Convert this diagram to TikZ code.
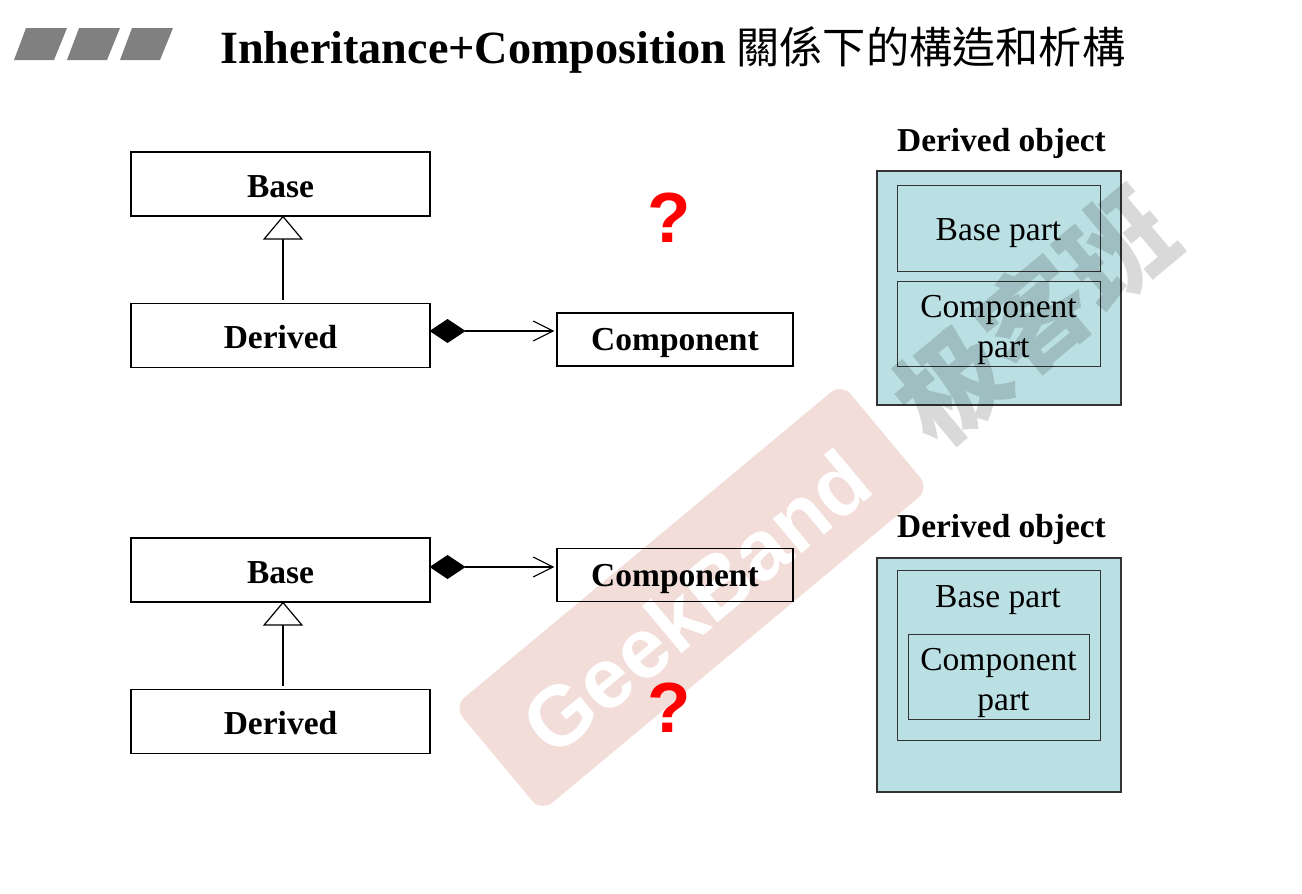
\documentclass[tikz,border=0pt]{standalone}
\usepackage{fontspec}
\setmainfont{Liberation Serif}
\setsansfont{Liberation Sans}
\newfontfamily\cjk{Noto Sans CJK TC}
\usetikzlibrary{arrows.meta}

\definecolor{partfill}{HTML}{BBE0E3}
\definecolor{markfill}{HTML}{F2DDD9}

\tikzstyle{classstyle} = [draw, text centered, inner sep=0, line width=1.2pt, text height=26pt, text depth=0pt, minimum width=299pt, minimum height=64pt, font=\fontsize{33.5}{40}\selectfont\bfseries]
\tikzstyle{compstyle} = [classstyle, text height=22pt, minimum width=236pt, minimum height=53pt]
\tikzstyle{objstyle} = [draw=black!80, fill=partfill, inner sep=0, line width=1.1pt, minimum width=244pt, minimum height=234pt]
\tikzstyle{partstyle} = [draw=black!80, inner sep=0, line width=1pt, align=center, font=\fontsize{33.5}{40}\selectfont]
\tikzstyle{textstyle} = [inner sep=0, align=center, font=\fontsize{33.5}{40}\selectfont]
\tikzstyle{headstyle} = [inner sep=0, font=\fontsize{33.4}{40}\selectfont\bfseries]
\tikzstyle{askstyle} = [inner sep=0, text=red, font=\fontsize{71}{75}\selectfont\sffamily\bfseries]
\tikzstyle{barstyle} = [fill=black!50]

\begin{document}
\begin{tikzpicture}[x=1pt, y=-1pt]
  \useasboundingbox (0,0) rectangle (1302,894);

  \node at (691.5,597.5) [fill=markfill, rounded corners=14pt, rotate=39.8, minimum width=505pt, minimum height=137pt] (mark) {};
  \node at (696,602) [rotate=39.8, inner sep=0, text=white, font=\fontsize{85}{90}\selectfont\sffamily\bfseries] (markname) {GeekBand};

  \fill[barstyle] (14,60) -- (26,28) -- (67,28) -- (54,60) -- cycle;
  \fill[barstyle] (67,60) -- (79,28) -- (120,28) -- (107,60) -- cycle;
  \fill[barstyle] (120,60) -- (132,28) -- (173,28) -- (160,60) -- cycle;

  \node at (220,50) [anchor=west, inner sep=0, font=\fontsize{46.2}{50}\selectfont\bfseries] (title) {Inheritance+Composition\hspace{10pt}{\mdseries\cjk\fontsize{43.2}{50}\selectfont 關係下的構造和析構}};

  \node at (280.5,184) [classstyle] (base1) {Base};
  \node at (280.5,335.5) [classstyle] (derived1) {Derived};
  \node at (675,339.5) [compstyle] (comp1) {Component};

  \node at (280.5,570) [classstyle] (base2) {Base};
  \node at (280.5,721.5) [classstyle] (derived2) {Derived};
  \node at (675,575) [compstyle] (comp2) {Component};

  \node at (669,217.5) [askstyle] (ask1) {?};
  \node at (669,708) [askstyle] (ask2) {?};

  \node at (1001.5,143) [headstyle] (head1) {Derived object};
  \node at (999,288) [objstyle] (obj1) {};
  \node at (998.5,228) [partstyle, text height=25pt, text depth=0pt, minimum width=203pt, minimum height=86pt] (basepart1) {Base part};
  \node at (998.5,323.5) [partstyle, minimum width=203pt, minimum height=85pt] (comppart1) {};
  \node at (998.5,330) [textstyle] (comptext1) {Component\\\hspace*{10pt}part};

  \node at (1001.5,529) [headstyle] (head2) {Derived object};
  \node at (999,675) [objstyle] (obj2) {};
  \node at (998.5,655) [partstyle, minimum width=203pt, minimum height=170pt] (basepart2) {};
  \node at (998,600) [textstyle] (basetext2) {Base part};
  \node at (998.5,676.5) [partstyle, minimum width=181pt, minimum height=85pt] (comppart2) {};
  \node at (998.5,683) [textstyle] (comptext2) {Component\\\hspace*{10pt}part};

  \path[line width=1.2pt, -{Triangle[open, length=24pt, width=40pt, fill=white]}, shorten <=3pt]
     ([xshift=2.5pt]derived1.north) edge ([xshift=2.5pt, yshift=1pt]base1.south)
     ([xshift=2.5pt]derived2.north) edge ([xshift=2.5pt, yshift=1pt]base2.south);

  \path[line width=1.1pt, {Diamond[length=36pt, width=24pt]}-{Straight Barb[length=20pt, width=20pt]}, shorten <=-1pt]
     ([yshift=4.5pt]derived1.east) edge ([yshift=8.5pt, xshift=-2pt]comp1.west)
     ([yshift=3pt]base2.east) edge ([yshift=8pt, xshift=-2pt]comp2.west);

  \node at (1034,316) [rotate=39.8, inner sep=0, text=black, opacity=0.15, font=\cjk\fontsize{108}{115}\selectfont\bfseries] (markcn) {极客班};
\end{tikzpicture}
\end{document}
